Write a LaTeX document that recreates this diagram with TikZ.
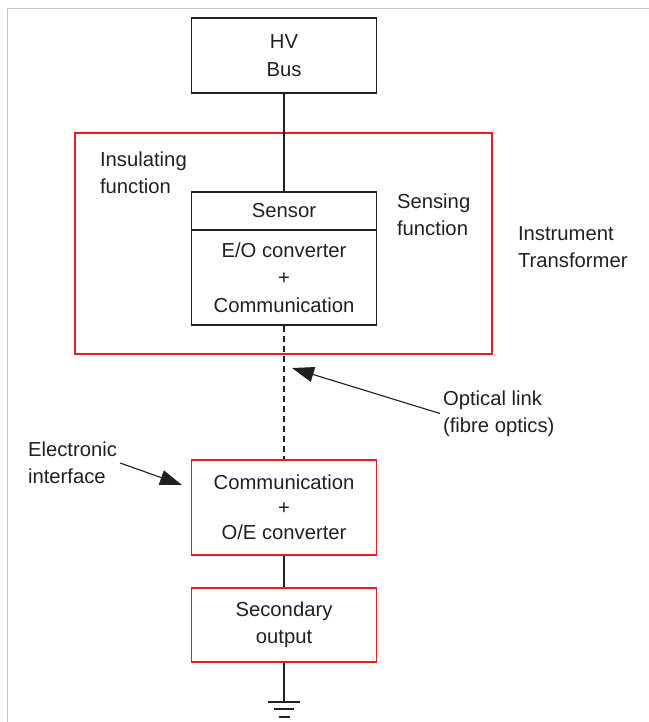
\documentclass[tikz,border=0pt]{standalone}
\usepackage{fontspec}
\setmainfont{Liberation Sans}
\usetikzlibrary{arrows.meta}

\definecolor{itred}{HTML}{ED1C24}
\definecolor{ink}{HTML}{231F20}
\definecolor{pagegray}{HTML}{C8C8C8}

\begin{document}
\begin{tikzpicture}[x=0.025cm, y=-0.025cm,
    every node/.style={font=\fontsize{14.4}{19.5}\selectfont, text=ink},
    blackbox/.style={draw=ink, line width=1.3pt, minimum width=4.625cm, align=center, inner sep=0pt},
    redbox/.style={draw=itred, line width=1pt, minimum width=4.625cm, align=center, inner sep=0pt},
    remark/.style={anchor=west, align=left, inner sep=2pt},
    wire/.style={draw=ink, line width=1pt},
    pointer/.style={draw=ink, line width=0.8pt, -{Triangle[length=0.55cm,width=0.38cm]}},
  ]
  \useasboundingbox (0,0) rectangle (649,722);
  \draw[pagegray, line width=0.6pt] (649,8) -- (7,8) -- (7,722);

  % transformer head
  \node[blackbox, minimum height=1.875cm] (hvbus) at (284,55.5) {HV\\Bus};
  \node[draw=itred, line width=1pt, minimum width=10.425cm, minimum height=5.525cm] (itbox) at (283.5,243.5) {};
  \node[blackbox, minimum height=0.95cm] (sensor) at (284,211) {\raisebox{-2pt}{Sensor}};
  \node[blackbox, minimum height=2.375cm] (eoconv) at (284,277.5) {E/O converter\\+\\Communication};

  % receiving side
  \node[redbox, minimum height=2.375cm, font=\fontsize{14.4}{17.8}\selectfont] (comm) at (284,507.5) {Communication\\+\\O/E converter};
  \node[redbox, minimum height=1.85cm] (secout) at (284,625) {Secondary\\output};
  \coordinate (gnd) at (284,702);

  \draw[wire] (hvbus.south) -- (sensor.north);
  \draw[wire, line width=1.3pt, dash pattern=on 0.15cm off 0.1cm] (eoconv.south) -- (comm.north);
  \draw[wire] (comm.south) -- (secout.north);
  \draw[wire] (secout.south) -- (gnd);
  \draw[wire, line width=1.3pt] (gnd) ++(-16,0) -- ++(32,0);
  \draw[wire, line width=1.3pt] (gnd) ++(-10,7) -- ++(20,0);
  \draw[wire, line width=1.3pt] (gnd) ++(-5.5,15) -- ++(11,0);

  % labels
  \node[remark] (insulating) at (97,173) {Insulating\\function};
  \node[remark] (sensing) at (394,214.5) {Sensing\\function};
  \node[remark] (instrument) at (515,247) {Instrument\\Transformer};
  \node[remark] (optical) at (440,413.5) {Optical link\\(fibre optics)};
  \node[remark] (electronic) at (25,463) {Electronic\\interface};

  \coordinate (opttip) at (292,368);
  \coordinate (eitip) at (182,485);
  \draw[pointer] (optical.west) -- (opttip);
  \draw[pointer] (electronic.east) -- (eitip);
\end{tikzpicture}
\end{document}
